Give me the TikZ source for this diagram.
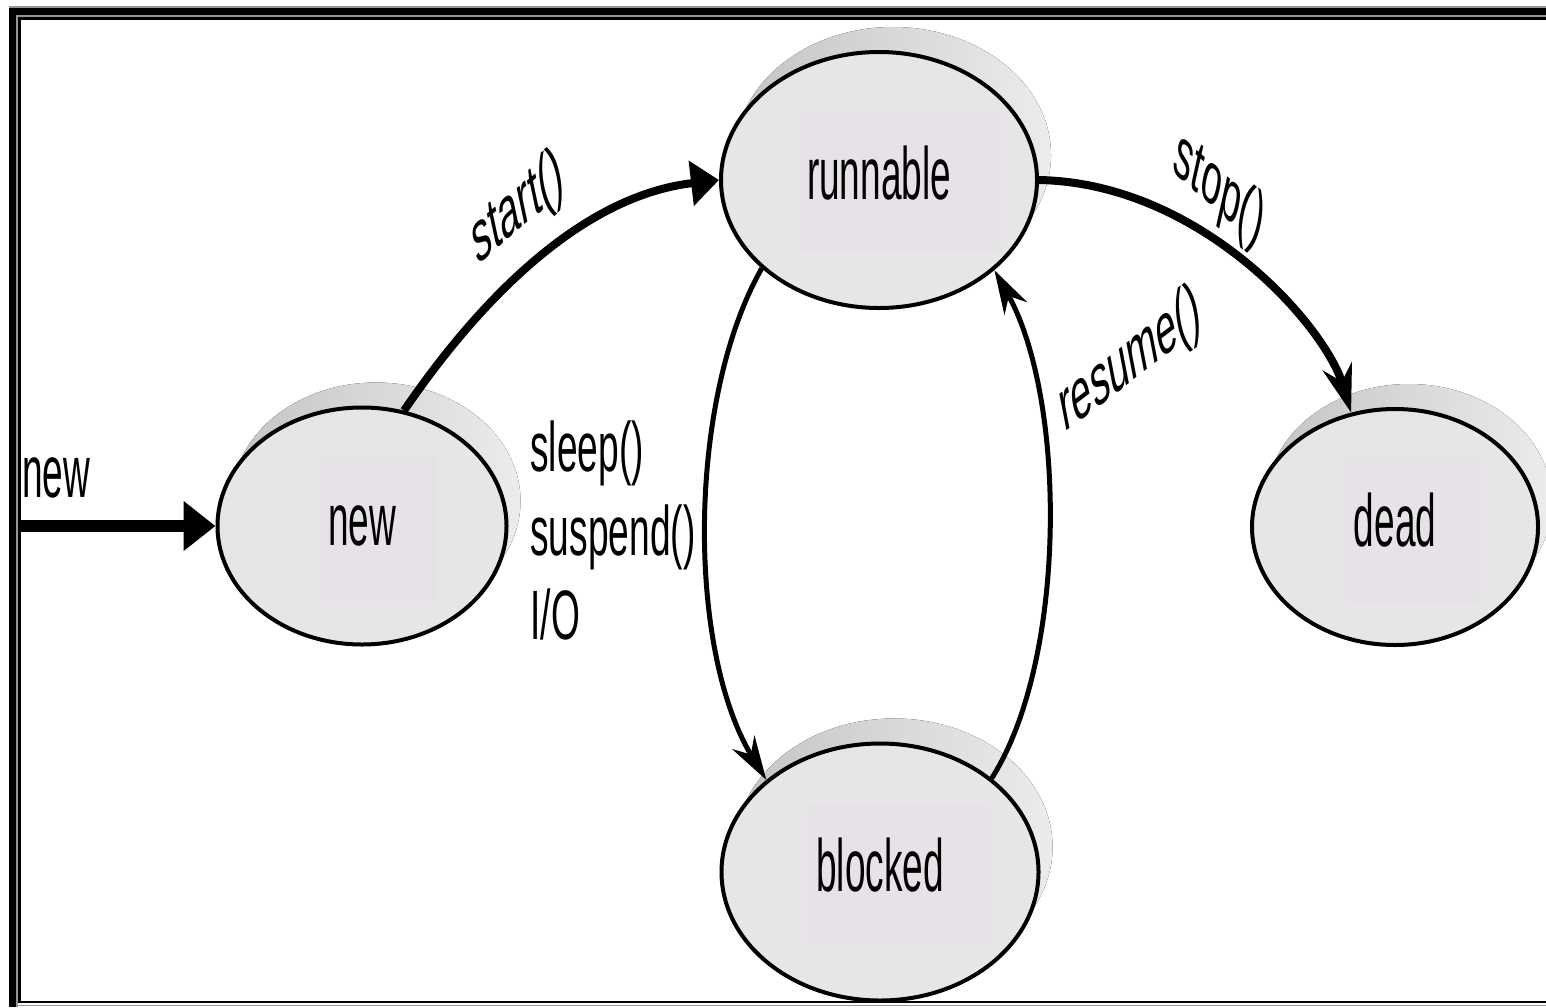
\documentclass[tikz,border=0pt]{standalone}
\usepackage{fontspec}
\usetikzlibrary{shapes.geometric,arrows.meta}
\newfontfamily\statefont[FakeStretch=0.5]{Liberation Sans}
\newfontfamily\labelfont[FakeStretch=0.53]{Liberation Sans}
\newfontfamily\rotfont{Liberation Sans}
\definecolor{statefill}{RGB}{230,230,230}
\definecolor{shadowdark}{RGB}{196,196,196}
\definecolor{shadowlight}{RGB}{236,236,236}
\definecolor{textbox}{RGB}{231,226,231}
\definecolor{framegray}{RGB}{150,150,150}
\tikzset{
  state/.style={ellipse, draw=black, line width=2pt, fill=statefill, inner sep=0pt,
    text height=19pt, text depth=0pt, font=\statefont\fontsize{37}{44}\selectfont},
  boxed/.style n args={4}{path picture={\fill[textbox]
    ([shift={(#1,#2)}]path picture bounding box.center) rectangle
    ([shift={(#3,#4)}]path picture bounding box.center);}},
  shadowfill/.style={left color=shadowdark, right color=shadowlight},
  lab/.style={inner sep=0pt, font=\labelfont\fontsize{35}{42}\selectfont},
  rotlab/.style={inner sep=0pt, font=\rotfont\fontsize{37}{44}\selectfont, xscale=0.5, rotate=#1},
  thickarrow/.style={line width=4pt},
  thinarrow/.style={line width=2.5pt, -{Stealth[length=22pt,width=13pt]}}
}
\begin{document}
\begin{tikzpicture}[x=0.5pt,y=-0.5pt]
\useasboundingbox (0,0) rectangle (1546,1007);
% centres
\coordinate (cR) at (879,180);
\coordinate (cN) at (362,526);
\coordinate (cB) at (880,872);
\coordinate (cD) at (1395,527);
% shadows
\fill[shadowfill] ([shift={(14,-25)}]cR) ellipse [x radius=79pt, y radius=64pt];
\fill[shadowfill] ([shift={(14,-25)}]cN) ellipse [x radius=72.25pt, y radius=59.25pt];
\fill[shadowfill] ([shift={(14,-25)}]cB) ellipse [x radius=79.25pt, y radius=64.25pt];
\fill[shadowfill] ([shift={(14,-25)}]cD) ellipse [x radius=71.5pt, y radius=59pt];
% states
\node[state, minimum width=158pt, minimum height=128pt, boxed={-81}{-68}{123}{72}] (runnable) at (cR) {runnable};
\node[state, minimum width=144.5pt, minimum height=118.5pt, boxed={-42}{-69}{75}{76}] (new) at (cN) {new};
\node[state, minimum width=158.5pt, minimum height=128.5pt, boxed={-73}{-67}{110}{73}] (blocked) at (cB) {blocked};
\node[state, minimum width=143pt, minimum height=118pt, boxed={-49}{-70}{86}{76}] (dead) at (cD) {dead};
% entry
\coordinate (entry) at (20,526);
\draw[line width=6pt, -{Triangle[length=16pt,width=24pt]}] (entry) -- (new.west);
\node[inner sep=0pt, anchor=base west, font=\statefont\fontsize{37}{44}\selectfont] (entrylabel) at (22,497) {new};
% transitions
\draw[thickarrow, -{Triangle[length=14pt,width=22pt]}] (new.70) .. controls (490,285) and (590,195) .. (runnable.west);
\draw[thickarrow, -{Stealth[length=24pt,width=15pt]}] (runnable.east) .. controls (1200,183) and (1325,325) .. (dead.111);
\draw[thinarrow] (runnable.217) .. controls (687,400) and (687,650) .. (blocked.141);
\draw[thinarrow] (blocked.40) .. controls (1067,660) and (1067,400) .. (runnable.-38);
% labels
\begin{scope}[shift={(518,210)}]
\node[rotlab=23] (startlab) at (0,0) {start()};
\end{scope}
\begin{scope}[shift={(1219,191)}]
\node[rotlab=-24] (stoplab) at (0,0) {stop()};
\end{scope}
\begin{scope}[shift={(1130,362)}]
\node[rotlab=21] (resumelab) at (0,0) {resume()};
\end{scope}
\node[lab, anchor=north west, align=left] (blocklab) at (530,420) {sleep()\\suspend()\\I/O};
% frame
\fill[black] (9,7.5) rectangle (1546,15);
\fill[black] (9,7.5) rectangle (15.5,1007);
\draw[framegray, line width=0.6pt] (9,7) -- (1546,7);
\draw[framegray, line width=0.8pt] (16.7,1007) -- (16.7,16.2) -- (1546,16.2);
\draw[black, line width=1.2pt] (19.5,1003) -- (19.5,18.4) -- (1546,18.4);
\draw[black, line width=1.3pt] (19,1002) -- (1546,1002);
\draw[framegray, line width=0.8pt] (16.7,1005.3) -- (1546,1005.3);
\end{tikzpicture}
\end{document}
